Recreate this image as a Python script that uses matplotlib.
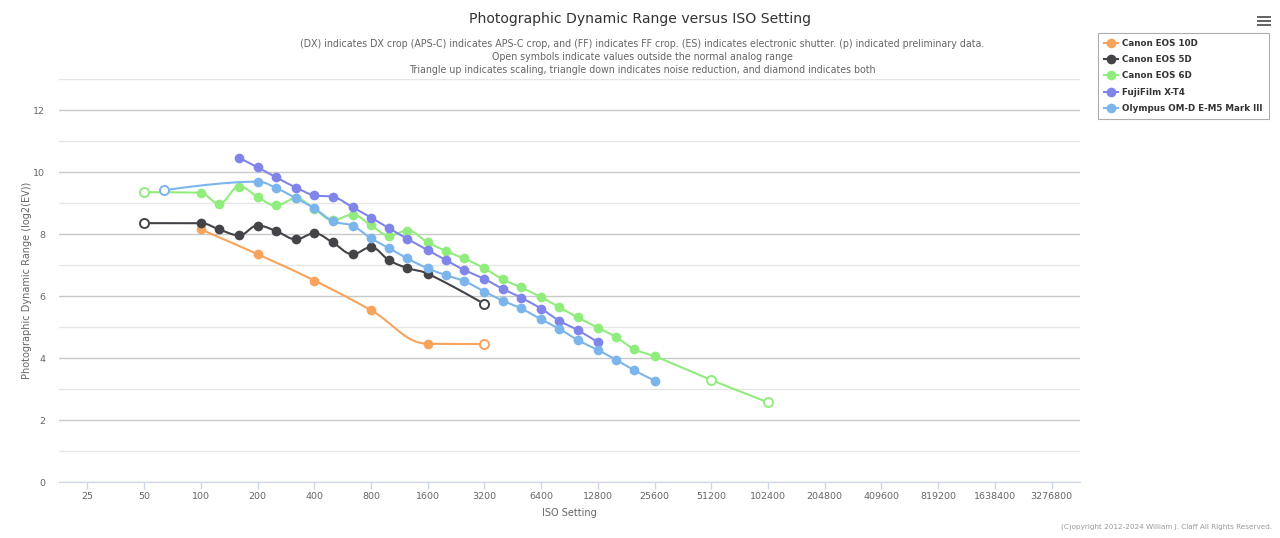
"""
Photographic Dynamic Range versus ISO Setting
Highcharts-like spline chart redone with matplotlib
"""

import numpy as np
import matplotlib
matplotlib.use("Agg")
import matplotlib.pyplot as plt
from matplotlib.ticker import FixedLocator, NullLocator
from matplotlib.lines import Line2D

# ============================================================================
# DATA
# ============================================================================

ISO_TICKS = [25, 50, 100, 200, 400, 800, 1600, 3200, 6400, 12800, 25600,
             51200, 102400, 204800, 409600, 819200, 1638400, 3276800]

names = ["Canon EOS 10D", "Canon EOS 5D", "Canon EOS 6D",
         "FujiFilm X-T4", "Olympus OM-D E-M5 Mark III"]

colors = ["#f7a35c", "#434348", "#90ed7d", "#8085e9", "#7cb5ec"]

iso_10d = [100, 200, 400, 800, 1600, 3200]
dr_10d = [8.15, 7.35, 6.50, 5.54, 4.46, 4.45]
open_10d = [3200]

iso_5d = [50, 100, 125, 160, 200, 250, 320, 400, 500, 640, 800, 1000, 1250,
          1600, 3200]
dr_5d = [8.35, 8.35, 8.15, 7.96, 8.27, 8.10, 7.83, 8.02, 7.73, 7.35, 7.57,
         7.15, 6.90, 6.72, 5.74]
open_5d = [50, 3200]

iso_6d = [50, 100, 125, 160, 200, 250, 320, 400, 500, 640, 800, 1000, 1250,
          1600, 2000, 2500, 3200, 4000, 5000, 6400, 8000, 10000, 12800, 16000,
          20000, 25600, 51200, 102400]
dr_6d = [9.35, 9.33, 8.98, 9.53, 9.20, 8.92, 9.15, 8.82, 8.45, 8.62, 8.28,
         7.95, 8.11, 7.73, 7.45, 7.21, 6.89, 6.54, 6.28, 5.96, 5.64, 5.31,
         4.98, 4.67, 4.28, 4.06, 3.29, 2.57]
open_6d = [50, 51200, 102400]

iso_xt4 = [160, 200, 250, 320, 400, 500, 640, 800, 1000, 1250, 1600, 2000,
           2500, 3200, 4000, 5000, 6400, 8000, 10000, 12800]
dr_xt4 = [10.46, 10.15, 9.83, 9.50, 9.25, 9.20, 8.86, 8.53, 8.18, 7.84, 7.48,
          7.15, 6.84, 6.55, 6.23, 5.95, 5.59, 5.20, 4.90, 4.51]
open_xt4 = []

iso_em5 = [64, 200, 250, 320, 400, 500, 640, 800, 1000, 1250, 1600, 2000,
           2500, 3200, 4000, 5000, 6400, 8000, 10000, 12800, 16000, 20000,
           25600]
dr_em5 = [9.41, 9.69, 9.49, 9.15, 8.83, 8.42, 8.26, 7.86, 7.54, 7.21, 6.89,
          6.67, 6.48, 6.14, 5.85, 5.60, 5.25, 4.94, 4.58, 4.26, 3.94, 3.60,
          3.27]
open_em5 = [64]

series = [
    (iso_10d, dr_10d, open_10d),
    (iso_5d, dr_5d, open_5d),
    (iso_6d, dr_6d, open_6d),
    (iso_xt4, dr_xt4, open_xt4),
    (iso_em5, dr_em5, open_em5),
]

# ============================================================================
# SPLINE (same control points as the highcharts spline series)
# ============================================================================

def spline_path(xs, ys, smoothing=1.5, n=30):
    xs = list(xs)
    ys = list(ys)
    denom = smoothing + 1
    count = len(xs)
    left = [(xs[i], ys[i]) for i in range(count)]
    right = [(xs[i], ys[i]) for i in range(count)]

    for i in range(1, count - 1):
        px, py = xs[i], ys[i]
        lx, ly = xs[i - 1], ys[i - 1]
        nx, ny = xs[i + 1], ys[i + 1]
        lcx = (smoothing * px + lx) / denom
        lcy = (smoothing * py + ly) / denom
        rcx = (smoothing * px + nx) / denom
        rcy = (smoothing * py + ny) / denom
        corr = 0.0
        if rcx != lcx:
            corr = (rcy - lcy) * (rcx - px) / (rcx - lcx) + py - rcy
        lcy += corr
        rcy += corr
        if lcy > ly and lcy > py:
            lcy = max(ly, py)
            rcy = 2 * py - lcy
        elif lcy < ly and lcy < py:
            lcy = min(ly, py)
            rcy = 2 * py - lcy
        if rcy > ny and rcy > py:
            rcy = max(ny, py)
            lcy = 2 * py - rcy
        elif rcy < ny and rcy < py:
            rcy = min(ny, py)
            lcy = 2 * py - rcy
        left[i] = (lcx, lcy)
        right[i] = (rcx, rcy)

    t = np.linspace(0, 1, n)
    out_x = [xs[0]]
    out_y = [ys[0]]
    for i in range(1, count):
        p0 = np.array([xs[i - 1], ys[i - 1]])
        p1 = np.array(right[i - 1])
        p2 = np.array(left[i])
        p3 = np.array([xs[i], ys[i]])
        pts = ((1 - t) ** 3)[:, None] * p0 + (3 * (1 - t) ** 2 * t)[:, None] * p1 \
            + (3 * (1 - t) * t ** 2)[:, None] * p2 + (t ** 3)[:, None] * p3
        out_x.extend(pts[1:, 0])
        out_y.extend(pts[1:, 1])
    return np.array(out_x), np.array(out_y)

# ============================================================================
# PLOT
# ============================================================================

plt.rcParams['font.family'] = ['DejaVu Sans']

W, H = 1280, 538
fig = plt.figure(figsize=(W / 100, H / 100), dpi=100)

x0, x1, y_top, y_bot = 59, 1080, 79, 482
ax = fig.add_axes([x0 / W, 1 - y_bot / H, (x1 - x0) / W, (y_bot - y_top) / H])

handles = []
for k, (iso, dr, opens) in enumerate(series):
    c = colors[k]
    lx, ly = spline_path(np.log2(iso), dr)
    ax.plot(2 ** lx, ly, color=c, lw=1.5, zorder=3 + k, solid_capstyle='round')
    filled = [(i, d) for i, d in zip(iso, dr) if i not in opens]
    hollow = [(i, d) for i, d in zip(iso, dr) if i in opens]
    if filled:
        fx, fy = zip(*filled)
        ax.plot(fx, fy, 'o', ms=7, color=c, mec=c, mew=0, zorder=3 + k)
    if hollow:
        hx, hy = zip(*hollow)
        ax.plot(hx, hy, 'o', ms=6.5, mfc='white', mec=c, mew=1.4, zorder=3 + k)
    handles.append(Line2D([], [], color=c, lw=1.5, marker='o', ms=7, mew=0))

ax.set_xscale('log', base=2)
ax.set_xlim(ISO_TICKS[0] / np.sqrt(2), ISO_TICKS[-1] * np.sqrt(2))
ax.set_ylim(0, 13)

ax.xaxis.set_major_locator(FixedLocator(ISO_TICKS))
ax.xaxis.set_minor_locator(NullLocator())
ax.set_xticklabels([str(v) for v in ISO_TICKS])
ax.tick_params(axis='x', length=5, width=1, color='#ccd6eb', labelsize=6.8,
               labelcolor='#666666', pad=2)

ax.yaxis.set_major_locator(FixedLocator(range(0, 13, 2)))
ax.yaxis.set_minor_locator(FixedLocator(range(1, 14, 2)))
ax.tick_params(axis='y', which='both', length=0, labelsize=6.8,
               labelcolor='#666666', pad=10)
ax.grid(axis='y', which='major', color='#c8c8c8', lw=1)
ax.grid(axis='y', which='minor', color='#e6e6e6', lw=1)
ax.set_axisbelow(True)

for s in ['top', 'right', 'left']:
    ax.spines[s].set_visible(False)
ax.spines['bottom'].set_color('#ccd6eb')
ax.spines['bottom'].set_zorder(2)

ax.set_xlabel("ISO Setting", fontsize=7, color='#666666', labelpad=5)
ax.set_ylabel("Photographic Dynamic Range (log2(EV))", fontsize=7,
              color='#666666', labelpad=1)

# titles
fig.text(0.5, 1 - 19 / H,
         "Photographic Dynamic Range versus ISO Setting",
         ha='center', va='center', fontsize=10.1, color='#333333')
subtitle = [
    "(DX) indicates DX crop (APS-C) indicates APS-C crop, and (FF) indicates FF crop. "
    "(ES) indicates electronic shutter. (p) indicated preliminary data.",
    "Open symbols indicate values outside the normal analog range",
    "Triangle up indicates scaling, triangle down indicates noise reduction, and diamond indicates both",
]
for j, line in enumerate(subtitle):
    fig.text(642 / W, 1 - (44 + 13 * j) / H, line, ha='center', va='center',
             fontsize=6.85, color='#666666')

# legend
leg = fig.legend(handles, names, loc='upper left',
                 bbox_to_anchor=(1098 / W, 1 - 33 / H), frameon=True,
                 fancybox=False, fontsize=6.3, handlelength=1.6,
                 handletextpad=0.5, labelspacing=0.82, borderpad=0.7,
                 borderaxespad=0)
leg.get_frame().set_edgecolor('#999999')
leg.get_frame().set_linewidth(0.8)
for t in leg.get_texts():
    t.set_fontweight('bold')
    t.set_color('#333333')

# menu icon
for yy in (17, 21, 25):
    fig.add_artist(Line2D([1257 / W, 1271 / W], [1 - yy / H, 1 - yy / H],
                          color='#666666', lw=1.44, snap=True,
                          solid_capstyle='butt'))

fig.text(1272 / W, 1 - 527 / H,
         "(C)opyright 2012-2024 William J. Claff All Rights Reserved.",
         ha='right', va='center', fontsize=5.2, color='#999999')

fig.savefig("out.png", dpi=100)
